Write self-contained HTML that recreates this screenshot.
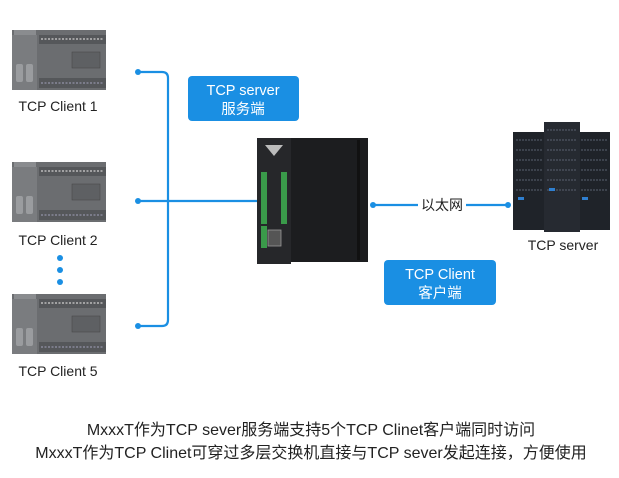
<!DOCTYPE html>
<html><head><meta charset="utf-8"><style>
body{margin:0;background:#fff;}
svg text{font-family:"Liberation Sans","Noto Sans CJK SC",sans-serif;}
</style></head><body>
<svg width="619" height="473" viewBox="0 0 619 473" xmlns="http://www.w3.org/2000/svg">
<defs>
<g id="plc">
  <rect x="0" y="0" width="94" height="60" fill="#6b6d70"/>
  <rect x="0" y="5" width="25" height="55" fill="#7a7c7f"/>
  <rect x="2" y="0" width="22" height="5" fill="#8a8c8f"/>
  <rect x="27" y="5" width="67" height="9" fill="#55575a"/>
  <rect x="27" y="48" width="67" height="10" fill="#55575a"/>
  <rect x="60" y="22" width="28" height="16" fill="#5e6063" stroke="#444" stroke-width="0.5"/>
  <rect x="4" y="34" width="7" height="18" rx="2" fill="#9a9c9f"/>
  <rect x="14" y="34" width="7" height="18" rx="2" fill="#9a9c9f"/>
  <line x1="29" y1="9" x2="92" y2="9" stroke="#bbb" stroke-width="1.5" stroke-dasharray="2 1.5"/>
  <line x1="29" y1="53" x2="92" y2="53" stroke="#889" stroke-width="1.5" stroke-dasharray="2 1.5"/>
</g>
</defs>
<use href="#plc" x="12" y="30"/>
<use href="#plc" x="12" y="162"/>
<use href="#plc" x="12" y="294"/>
<g font-size="14" fill="#222" text-anchor="middle">
<text x="58" y="111">TCP Client 1</text>
<text x="58" y="245">TCP Client 2</text>
<text x="58" y="376">TCP Client 5</text>
</g>
<g fill="#1a8fe3">
<circle cx="60" cy="258" r="3"/><circle cx="60" cy="270" r="3"/><circle cx="60" cy="282" r="3"/>
<circle cx="138" cy="72" r="3"/><circle cx="138" cy="201" r="3"/><circle cx="138" cy="326" r="3"/>
<circle cx="373" cy="205" r="3"/><circle cx="508" cy="205" r="3"/>
</g>
<g stroke="#1a8fe3" stroke-width="2.2" fill="none">
<path d="M138 72 H162 Q168 72 168 78 V320 Q168 326 162 326 H138"/>
<path d="M138 201 H258"/>
<path d="M373 205 H418 M466 205 H508"/>
</g>
<text x="442" y="210" font-size="14" fill="#222" text-anchor="middle">以太网</text>
<rect x="188" y="76" width="111" height="45" rx="4" fill="#1a8fe3"/>
<text x="243" y="95" font-size="14.5" fill="#fff" text-anchor="middle">TCP server</text>
<text x="243" y="114" font-size="14.5" fill="#fff" text-anchor="middle">服务端</text>
<rect x="384" y="260" width="112" height="45" rx="4" fill="#1a8fe3"/>
<text x="440" y="279" font-size="14.5" fill="#fff" text-anchor="middle">TCP Client</text>
<text x="440" y="298" font-size="14.5" fill="#fff" text-anchor="middle">客户端</text>
<rect x="290" y="138" width="78" height="124" fill="#1c1d1f"/>
<rect x="357" y="140" width="3" height="120" fill="#111"/>
<rect x="257" y="138" width="34" height="126" fill="#26272a"/>
<g fill="#3a9a4a">
<rect x="261" y="172" width="6" height="52"/><rect x="281" y="172" width="6" height="52"/>
<rect x="261" y="226" width="6" height="22"/>
</g>
<rect x="268" y="230" width="13" height="16" fill="#555" stroke="#999" stroke-width="0.8"/>
<path d="M265 145 L283 145 L274 156 Z" fill="#bbb"/>
<rect x="513" y="132" width="32" height="98" fill="#1f2329"/>
<rect x="578" y="132" width="32" height="98" fill="#1f2329"/>
<rect x="544" y="122" width="36" height="110" fill="#262a31"/>
<g stroke="#5a6070" stroke-width="1" stroke-dasharray="2 1">
<line x1="516" y1="140" x2="542" y2="140"/><line x1="516" y1="150" x2="542" y2="150"/><line x1="516" y1="160" x2="542" y2="160"/><line x1="516" y1="170" x2="542" y2="170"/><line x1="516" y1="180" x2="542" y2="180"/><line x1="516" y1="190" x2="542" y2="190"/>
<line x1="547" y1="130" x2="577" y2="130"/><line x1="547" y1="140" x2="577" y2="140"/><line x1="547" y1="150" x2="577" y2="150"/><line x1="547" y1="160" x2="577" y2="160"/><line x1="547" y1="170" x2="577" y2="170"/><line x1="547" y1="180" x2="577" y2="180"/><line x1="547" y1="190" x2="577" y2="190"/>
<line x1="581" y1="140" x2="607" y2="140"/><line x1="581" y1="150" x2="607" y2="150"/><line x1="581" y1="160" x2="607" y2="160"/><line x1="581" y1="170" x2="607" y2="170"/><line x1="581" y1="180" x2="607" y2="180"/><line x1="581" y1="190" x2="607" y2="190"/>
</g>
<g fill="#2f7fd0"><rect x="518" y="197" width="6" height="3"/><rect x="549" y="188" width="6" height="3"/><rect x="582" y="197" width="6" height="3"/></g>
<text x="563" y="250" font-size="14" fill="#222" text-anchor="middle">TCP server</text>
<g font-size="16" fill="#222" text-anchor="middle">
<text x="311" y="435">MxxxT作为TCP sever服务端支持5个TCP Clinet客户端同时访问</text>
<text x="311" y="458">MxxxT作为TCP Clinet可穿过多层交换机直接与TCP sever发起连接，方便使用</text>
</g>
</svg>
</body></html>
